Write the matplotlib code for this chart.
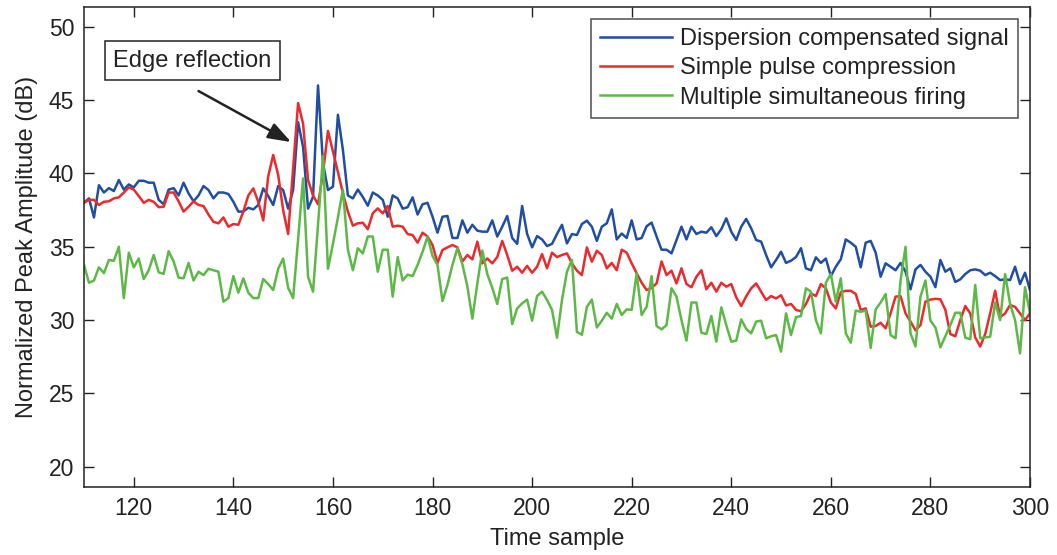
import numpy as np
import matplotlib
matplotlib.use("Agg")
import matplotlib.pyplot as plt

plt.rcParams['font.family'] = ['Liberation Sans', 'DejaVu Sans']

# time samples 110..300
samples = np.arange(110, 301)

dispersion_comp = [
    38.0, 38.3, 37.0, 39.2, 38.7, 39.0, 38.8, 39.55, 38.9, 39.25,
    39.05, 39.5, 39.5, 39.37, 39.37, 38.2, 37.9, 38.9, 39.0, 38.5,
    39.37, 38.64, 38.1, 38.5, 39.14, 38.87, 38.3, 38.7, 38.7, 38.6,
    38.07, 37.4, 37.4, 37.66, 37.55, 37.85, 38.98, 38.46, 37.85, 39.14,
    38.87, 37.6, 38.87, 43.5, 41.8, 37.6, 38.4, 46.0, 40.7, 38.87,
    39.1, 44.0, 41.6, 38.5, 38.3, 38.9, 38.4, 37.8, 38.7, 38.5,
    38.2, 37.05, 38.5, 38.3, 37.6, 37.7, 38.37, 37.2, 37.9, 38.0,
    37.05, 35.96, 37.05, 37.1, 35.6, 35.6, 36.8, 35.96, 36.5, 36.1,
    36.03, 36.03, 36.8, 35.7, 36.37, 37.1, 35.6, 35.2, 37.78, 35.87,
    34.96, 35.73, 35.5, 35.05, 35.2, 35.87, 36.5, 35.23, 35.87, 35.8,
    36.55, 36.78, 36.37, 35.4, 36.37, 36.6, 37.55, 35.5, 35.9, 35.6,
    36.8, 35.5, 35.6, 36.4, 36.65, 35.7, 34.8, 34.8, 34.55, 35.46,
    36.37, 35.5, 36.37, 35.87, 36.03, 35.96, 36.33, 35.73, 36.2, 36.94,
    36.03, 35.46, 36.37, 36.9, 36.26, 35.46, 35.35, 34.44, 33.6, 34.1,
    34.66, 33.9, 34.05, 34.3, 34.9, 33.53, 33.4, 34.28, 33.9, 34.2,
    33.0, 33.64, 34.15, 35.5, 35.28, 35.0, 33.6, 35.28, 35.4, 34.6,
    32.96, 33.87, 33.64, 33.4, 33.9, 33.3, 32.1, 33.46, 33.76, 33.3,
    32.96, 32.25, 34.1, 33.3, 33.53, 32.6, 32.78, 33.14, 33.4, 33.46,
    33.37, 33.07, 33.23, 33.0, 32.73, 32.78, 32.73, 33.64, 32.46, 33.23,
    32.05,
]

simple_pulse = [
    38.0, 38.2, 38.2, 37.85, 38.07, 38.1, 38.3, 38.37, 38.7, 39.05,
    38.9, 38.46, 38.0, 38.2, 38.07, 37.7, 37.73, 38.7, 38.7, 38.1,
    37.4, 37.73, 38.1, 37.85, 37.78, 37.2, 36.7, 36.6, 37.0, 36.37,
    36.55, 36.5, 37.4, 38.5, 38.98, 38.07, 36.8, 39.8, 41.26, 39.9,
    37.5, 35.87, 40.3, 44.8, 43.4, 39.55, 38.5, 37.9, 40.0, 42.9,
    41.5, 40.1, 38.65, 37.4, 36.44, 36.6, 36.64, 36.2, 37.28, 37.62,
    37.28, 37.78, 36.37, 36.44, 36.37, 35.87, 35.8, 35.28, 35.96, 35.7,
    35.12, 33.9, 34.78, 34.96, 35.12, 34.96, 34.0, 34.44, 34.14, 35.35,
    33.87, 34.2, 33.87, 34.3, 35.4, 34.44, 33.37, 33.64, 33.23, 33.7,
    33.23, 33.64, 34.5, 33.53, 34.6, 34.3, 34.44, 34.55, 33.87, 33.37,
    33.07, 34.96, 33.98, 34.73, 34.44, 33.53, 33.9, 33.4, 34.8, 34.6,
    33.87, 33.2, 32.55, 32.05, 32.2, 32.5, 34.0, 33.07, 33.37, 32.5,
    33.53, 32.46, 32.24, 32.96, 33.4, 32.1, 32.55, 31.94, 32.55, 32.28,
    32.46, 31.55, 30.96, 31.62, 32.17, 32.5, 31.94, 31.37, 31.64, 31.48,
    31.7, 31.0, 31.1, 30.7, 30.6, 31.1, 31.82, 31.64, 32.46, 32.17,
    31.2, 30.8, 31.9, 32.0, 32.0, 31.78, 30.7, 30.8, 29.55, 29.6,
    29.82, 29.44, 30.46, 31.6, 31.64, 30.46, 29.9, 29.3, 29.66, 31.26,
    31.4, 31.45, 31.42, 30.7, 29.05, 28.9, 30.0, 30.96, 30.46, 28.82,
    28.2, 29.05, 30.46, 32.0, 30.2, 30.46, 31.03, 30.9, 30.46, 30.0,
    30.46,
]

multiple_firing = [
    33.76, 32.55, 32.7, 33.6, 33.2, 34.1, 34.05, 35.0, 31.5, 34.6,
    33.6, 34.2, 32.8, 33.4, 34.44, 33.26, 33.15, 34.7, 34.0, 32.9,
    32.85, 33.9, 32.7, 33.3, 33.07, 33.5, 33.4, 33.3, 31.26, 31.5,
    33.0, 31.87, 32.85, 31.87, 31.5, 31.5, 32.8, 32.46, 32.05, 33.5,
    34.2, 32.2, 31.5, 35.5, 39.66, 32.96, 31.94, 36.5, 41.19, 33.5,
    35.2, 37.0, 38.9, 34.8, 33.4, 34.9, 34.55, 35.7, 35.7, 33.3,
    34.8, 34.8, 31.6, 34.3, 32.7, 33.1, 33.0, 33.76, 34.66, 35.7,
    34.37, 33.76, 31.3, 32.4, 33.76, 34.9, 33.8, 32.3, 30.1, 32.5,
    34.74, 33.14, 32.2, 31.1, 32.8, 32.9, 29.73, 30.8, 31.14, 31.4,
    29.96, 31.64, 31.94, 31.37, 30.7, 28.8, 31.37, 33.3, 34.1, 29.2,
    29.0, 30.9, 31.4, 29.5, 29.96, 30.5, 30.1, 31.1, 30.35, 30.73,
    30.7, 33.2, 30.35, 30.9, 33.0, 29.6, 29.37, 29.66, 32.17, 31.6,
    30.0, 28.6, 31.2, 31.2, 29.14, 29.05, 30.28, 28.53, 30.87, 29.66,
    28.53, 28.6, 30.05, 29.4, 29.1, 29.9, 29.96, 28.76, 28.9, 28.98,
    27.85, 30.46, 28.98, 30.2, 30.28, 32.17, 31.94, 30.0, 29.1, 32.55,
    33.14, 31.26, 32.85, 29.1, 28.46, 30.65, 30.57, 30.65, 28.1, 30.73,
    31.2, 31.78, 28.98, 28.76, 32.7, 35.0, 29.1, 28.2, 31.6, 32.7,
    29.96, 29.5, 28.14, 28.9, 29.66, 30.5, 30.5, 28.8, 28.7, 32.4,
    28.76, 28.82, 28.87, 31.2, 30.0, 33.14, 31.1, 30.0, 27.73, 32.24,
    30.46,
]

labels = ['Dispersion compensated signal', 'Simple pulse compression',
          'Multiple simultaneous firing']
colors = ['#1f4ea3', '#ec2a2d', '#5cb946']

fig = plt.figure(figsize=(10.57, 5.55), dpi=100)
ax = fig.add_axes([84 / 1057, 1 - 487 / 555, (1030 - 84) / 1057, (487 - 7) / 555])

for series, lab, col in zip([dispersion_comp, simple_pulse, multiple_firing], labels, colors):
    ax.plot(samples, series, color=col, lw=1.8, label=lab)

ax.set_xlim(110, 300)
ax.set_ylim(18.62, 51.35)
ax.set_xticks(np.arange(120, 301, 20))
ax.set_yticks(np.arange(20, 51, 5))
ax.tick_params(direction='in', length=7, width=1, top=True, right=True,
               labelsize=16.5, pad=7, colors='#222222')
for sp in ax.spines.values():
    sp.set_linewidth(1.1)
    sp.set_color('#222222')

ax.set_xlabel('Time sample', fontsize=17, labelpad=6, color='#222222')
ax.set_ylabel('Normalized Peak Amplitude (dB)', fontsize=17, labelpad=8, color='#222222')

leg = ax.legend(loc='upper right', bbox_to_anchor=(1018 / 1057, 1 - 19 / 555),
                bbox_transform=fig.transFigure, fontsize=17, frameon=True,
                fancybox=False, handlelength=3.05, handletextpad=0.35,
                borderpad=0.38, labelspacing=0.31, borderaxespad=0)
leg.get_frame().set_edgecolor('#222222')
leg.get_frame().set_linewidth(1.1)
for t in leg.get_texts():
    t.set_color('#222222')

# annotation box and arrow
ax.text(131.8, 47.7, 'Edge reflection', fontsize=17, color='#222222',
        ha='center', va='center',
        bbox=dict(boxstyle='square,pad=0.35', fc='white', ec='#222222', lw=1.1))
ax.annotate('', xy=(151.6, 42.14), xytext=(133.0, 45.62),
            arrowprops=dict(arrowstyle='-|>,head_length=1.4,head_width=0.5',
                            color='#222222', lw=1.8, shrinkA=0, shrinkB=0))

fig.savefig('out.png', dpi=100)
